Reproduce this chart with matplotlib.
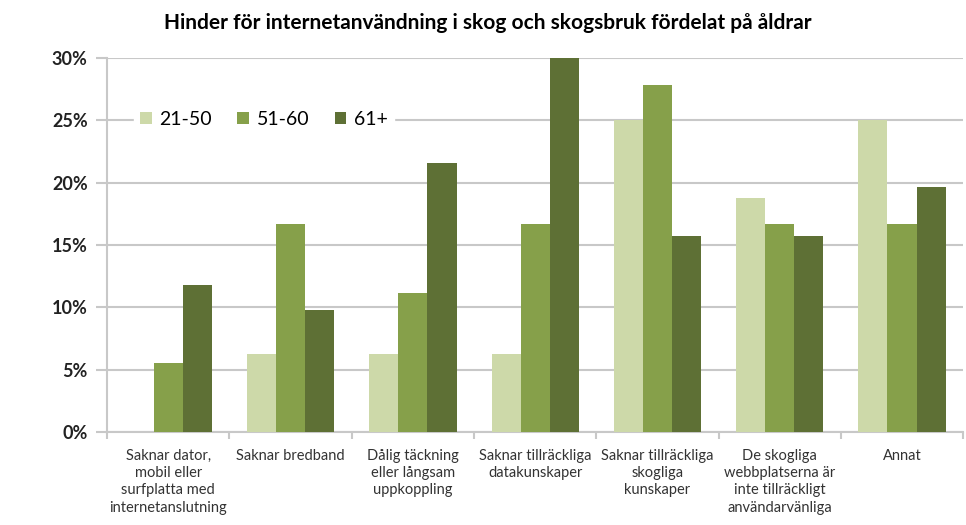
import numpy as np
import matplotlib.pyplot as plt
from matplotlib.ticker import FuncFormatter, FixedLocator

plt.rcParams['font.family'] = ['Lato', 'DejaVu Sans']

categories = ['Saknar dator,\nmobil eller\nsurfplatta med\ninternetanslutning',
              'Saknar bredband',
              'Dålig täckning\neller långsam\nuppkoppling',
              'Saknar tillräckliga\ndatakunskaper',
              'Saknar tillräckliga\nskogliga\nkunskaper',
              'De skogliga\nwebbplatserna är\ninte tillräckligt\nanvändarvänliga',
              'Annat']
age_21_50 = [0.0, 6.25, 6.25, 6.25, 25.0, 18.75, 25.0]
age_51_60 = [5.56, 16.67, 11.11, 16.67, 27.78, 16.67, 16.67]
age_61 = [11.76, 9.8, 21.57, 30.0, 15.69, 15.69, 19.61]
series = ['21-50', '51-60', '61+']
colors = ['#cdd9a9', '#86a04a', '#5e7035']

fig = plt.figure(figsize=(9.66, 5.25), dpi=100)
ax = fig.add_axes([0.111, 0.177, 0.886, 0.713])

x = np.arange(len(categories))
w = 0.238
for i, (vals, lab, c) in enumerate(zip([age_21_50, age_51_60, age_61], series, colors)):
    ax.bar(x + (i - 1) * w, vals, w, color=c, label=lab, zorder=3)

ax.set_xlim(-0.5, len(categories) - 0.5)
ax.set_ylim(0, 30)
ax.set_yticks(range(0, 31, 5))
ax.yaxis.set_major_formatter(FuncFormatter(lambda v, p: '%d%%' % v))
ax.grid(axis='y', color='#c8c8c8', linewidth=1.5, zorder=0)
ax.tick_params(axis='y', length=8, color='#c8c8c8', width=1.5, labelsize=13, pad=6)
for t in ax.get_yticklabels():
    t.set_fontweight('bold')
    t.set_color('#222222')

ax.set_xticks(x)
ax.set_xticklabels(categories, fontsize=10.5, color='#333333', linespacing=1.3)
ax.tick_params(axis='x', length=0, pad=12)
ax.xaxis.set_minor_locator(FixedLocator(np.arange(-0.5, len(categories), 1)))
ax.tick_params(axis='x', which='minor', length=5, color='#c8c8c8', width=1.5)

for s in ['top', 'right']:
    ax.spines[s].set_visible(False)
ax.spines['left'].set_color('#c8c8c8')
ax.spines['left'].set_linewidth(1.5)
ax.spines['bottom'].set_color('#c8c8c8')
ax.spines['bottom'].set_linewidth(1.5)

leg = ax.legend(loc='upper left', bbox_to_anchor=(0.02, 0.9), ncol=3, frameon=True,
                fontsize=14, handlelength=0.6, handleheight=0.6, handletextpad=0.4,
                columnspacing=1.3, borderpad=0.3)
leg.get_frame().set_edgecolor('white')
leg.get_frame().set_facecolor('white')
leg.get_frame().set_alpha(1)
leg.set_zorder(5)

fig.suptitle('Hinder för internetanvändning i skog och skogsbruk fördelat på åldrar',
             fontsize=15, fontweight='bold', y=0.975, x=0.505)

fig.savefig('out.png', dpi=100)
